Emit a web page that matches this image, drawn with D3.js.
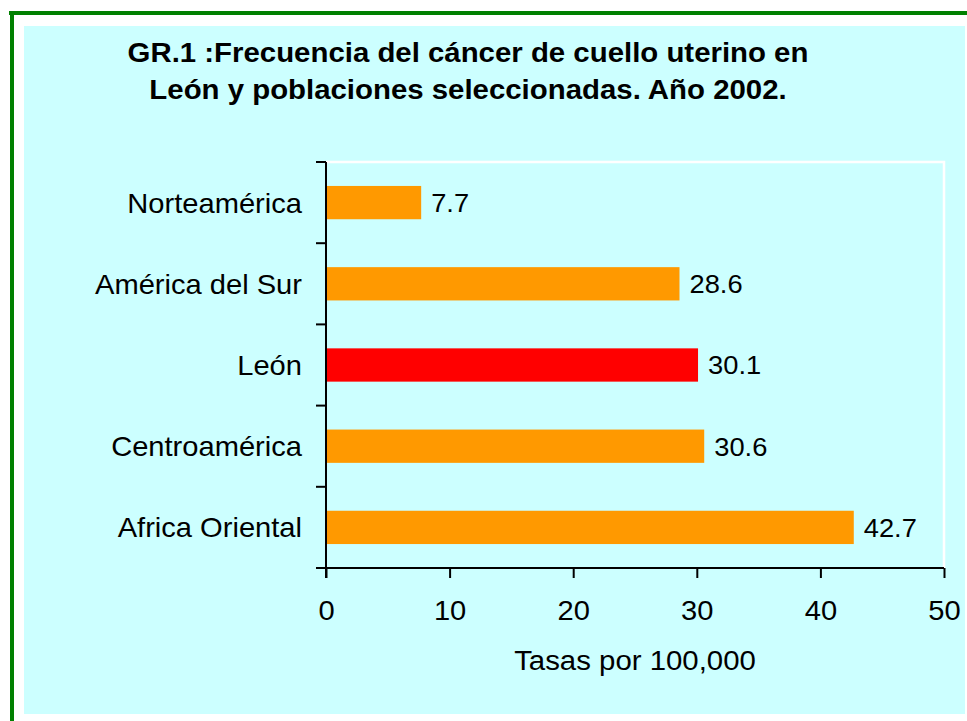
<!DOCTYPE html>
<html>
<head>
<meta charset="utf-8">
<script src="https://cdn.jsdelivr.net/npm/d3@7"></script>
<style>
  html, body { margin: 0; padding: 0; background: #ffffff; }
  svg { display: block; }
  text { font-family: Arial, "Liberation Sans", sans-serif; fill: #000; }
</style>
</head>
<body>
<svg id="chart" width="967" height="721"></svg>
<script>
const categories = ["Norteamérica", "América del Sur", "León", "Centroamérica", "Africa Oriental"];
const values = [7.7, 28.6, 30.1, 30.6, 42.7];
const highlight = "León";
const xTicks = [0, 10, 20, 30, 40, 50];
const titleLines = ["GR.1 :Frecuencia del cáncer de cuello uterino en", "León y poblaciones seleccionadas. Año 2002."];
const xTitle = "Tasas por 100,000";

const svg = d3.select("#chart");

// slight horizontal stretch of the glyphs, as in the reference
function stretch(sel, k) {
  sel.each(function () {
    const t = d3.select(this);
    const tx = +t.attr("x") || 0, ty = +t.attr("y") || 0;
    t.attr("x", 0).attr("y", 0).attr("transform", `translate(${tx},${ty}) scale(${k},1)`);
  });
}

// frame
svg.append("rect").attr("x", 24).attr("y", 26).attr("width", 941).attr("height", 688).attr("fill", "#CCFFFF");
svg.append("line").attr("x1", 9).attr("x2", 967).attr("y1", 13).attr("y2", 13).attr("stroke", "#008000").attr("stroke-width", 4);
svg.append("line").attr("x1", 12).attr("x2", 12).attr("y1", 11).attr("y2", 721).attr("stroke", "#008000").attr("stroke-width", 4);

const plot = { left: 326, right: 944, top: 162, bottom: 568 };

const x = d3.scaleLinear().domain([0, 50]).range([plot.left, plot.right]);
const y = d3.scaleBand().domain(categories).range([plot.top, plot.bottom]).paddingInner(0.59).paddingOuter(0.295);

// plot area border (white top & right)
svg.append("path")
  .attr("d", `M${plot.left},${plot.top}H${plot.right}V${plot.bottom}`)
  .attr("fill", "none").attr("stroke", "#ffffff").attr("stroke-width", 2.5);

// bars
svg.append("g").selectAll("rect").data(categories).join("rect")
  .attr("x", x(0))
  .attr("y", d => y(d))
  .attr("width", (d, i) => x(values[i]) - x(0))
  .attr("height", y.bandwidth())
  .attr("fill", d => d === highlight ? "#FF0000" : "#FF9900");

// value labels
svg.append("g").selectAll("text").data(categories).join("text")
  .attr("x", (d, i) => x(values[i]) + 10)
  .attr("y", d => y(d) + y.bandwidth() / 2)
  .attr("dy", "0.36em")
  .attr("font-size", 26)
  .text((d, i) => values[i].toFixed(1))
  .call(stretch, 1.05);

// y axis
const step = (plot.bottom - plot.top) / categories.length;
const yAxisG = svg.append("g");
yAxisG.append("line").attr("x1", plot.left).attr("x2", plot.left).attr("y1", plot.top).attr("y2", plot.bottom + 10)
  .attr("stroke", "#000").attr("stroke-width", 2);
yAxisG.selectAll("line.tick").data(d3.range(categories.length + 1)).join("line")
  .attr("class", "tick")
  .attr("x1", plot.left - 10).attr("x2", plot.left)
  .attr("y1", i => plot.top + i * step).attr("y2", i => plot.top + i * step)
  .attr("stroke", "#000").attr("stroke-width", 2);
yAxisG.selectAll("text").data(categories).join("text")
  .attr("x", 302)
  .attr("y", d => y(d) + y.bandwidth() / 2)
  .attr("dy", "0.36em")
  .attr("text-anchor", "end")
  .attr("font-size", 28)
  .text(d => d)
  .call(stretch, 1.04);

// x axis
const xAxis = d3.axisBottom(x).tickValues(xTicks).tickSize(10).tickPadding(10).tickFormat(d3.format("d"));
const xAxisG = svg.append("g").attr("transform", `translate(0,${plot.bottom})`).call(xAxis);
xAxisG.select(".domain").attr("stroke", "#000").attr("stroke-width", 2).attr("d", `M${plot.left},0H${plot.right}`);
xAxisG.selectAll(".tick line").attr("stroke", "#000").attr("stroke-width", 2);
xAxisG.selectAll(".tick text")
  .attr("font-size", 28).attr("font-family", "Arial, 'Liberation Sans', sans-serif").attr("fill", "#000")
  .attr("y", 52).attr("dy", null)
  .call(stretch, 1.04);

// x title
svg.append("text").attr("x", 635).attr("y", 670).attr("text-anchor", "middle").attr("font-size", 28).text(xTitle)
  .call(stretch, 1.05);

// title
svg.append("g").selectAll("text").data(titleLines).join("text")
  .attr("x", 468)
  .attr("y", (d, i) => 62 + i * 37)
  .attr("text-anchor", "middle")
  .attr("font-size", 28)
  .attr("font-weight", "bold")
  .text(d => d)
  .call(stretch, 1.05);
</script>
</body>
</html>
